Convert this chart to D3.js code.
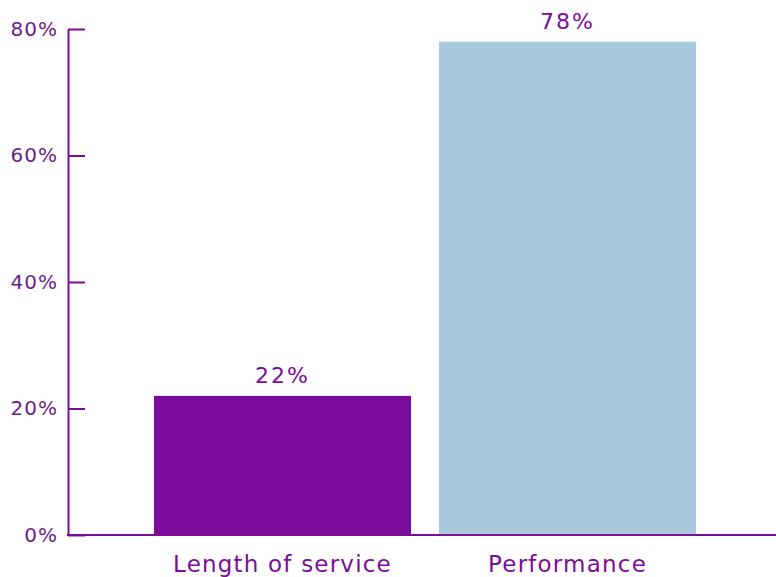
<!DOCTYPE html>
<html>
<head>
<meta charset="utf-8">
<script src="https://cdn.jsdelivr.net/npm/d3@7"></script>
<style>
  html, body { margin: 0; padding: 0; background: #ffffff; }
  svg { display: block; }
  text { font-family: "DejaVu Sans", "Noto Sans", sans-serif; }
</style>
</head>
<body>
<svg id="chart" width="776" height="577"></svg>
<script>
// Share of respondents by basis for pay decisions
const categories = ["Length of service", "Performance"];
const values = [22, 78];
const barColors = ["#7b0c99", "#a8c9dc"];
const yTicks = [0, 20, 40, 60, 80];

const axisColor = "#7b0c99";
const labelColor = "#6b1e8a";
const fontStack = "\"DejaVu Sans\", \"Noto Sans\", sans-serif";

const svg = d3.select("#chart");

const x0 = 68, x1 = 776;
const yTop = 29, yBottom = 535;

const x = d3.scaleBand()
  .domain(categories)
  .range([140, 710])
  .paddingInner(0.098)
  .paddingOuter(0.049);

const y = d3.scaleLinear()
  .domain([0, 80])
  .range([yBottom, yTop]);

// Bars
svg.append("g")
  .selectAll("rect")
  .data(categories)
  .join("rect")
  .attr("x", d => x(d))
  .attr("width", x.bandwidth())
  .attr("y", (d, i) => y(values[i]))
  .attr("height", (d, i) => y(0) - y(values[i]))
  .attr("fill", (d, i) => barColors[i]);

// Value labels above bars
svg.append("g")
  .selectAll("text")
  .data(categories)
  .join("text")
  .attr("x", d => x(d) + x.bandwidth() / 2)
  .attr("y", (d, i) => y(values[i]) - 13)
  .attr("text-anchor", "middle")
  .attr("font-size", 22)
  .attr("letter-spacing", 2)
  .attr("fill", axisColor)
  .text((d, i) => values[i] + "%");

// Y axis with inward ticks
const yAxis = d3.axisLeft(y)
  .tickValues(yTicks)
  .tickFormat(d => d + "%")
  .tickSizeInner(-17)
  .tickSizeOuter(0)
  .tickPadding(10);

const gy = svg.append("g")
  .attr("transform", `translate(${x0},0)`)
  .call(yAxis);
gy.select(".domain").attr("stroke", axisColor).attr("stroke-width", 2);
gy.selectAll(".tick line").attr("stroke", axisColor).attr("stroke-width", 2);
gy.selectAll(".tick text")
  .attr("fill", labelColor)
  .attr("font-size", 20)
  .attr("letter-spacing", 1)
  .attr("font-family", fontStack);

// X axis baseline and category labels
const xAxis = d3.axisBottom(x).tickSize(0).tickPadding(21);
const gx = svg.append("g")
  .attr("transform", `translate(0,${yBottom})`)
  .call(xAxis);
gx.select(".domain").remove();
gx.append("line")
  .attr("x1", x0 - 1)
  .attr("x2", x1)
  .attr("stroke", axisColor)
  .attr("stroke-width", 2);
gx.selectAll(".tick text")
  .attr("fill", axisColor)
  .attr("font-size", 23)
  .attr("letter-spacing", 1.2)
  .attr("font-family", fontStack);
</script>
</body>
</html>
